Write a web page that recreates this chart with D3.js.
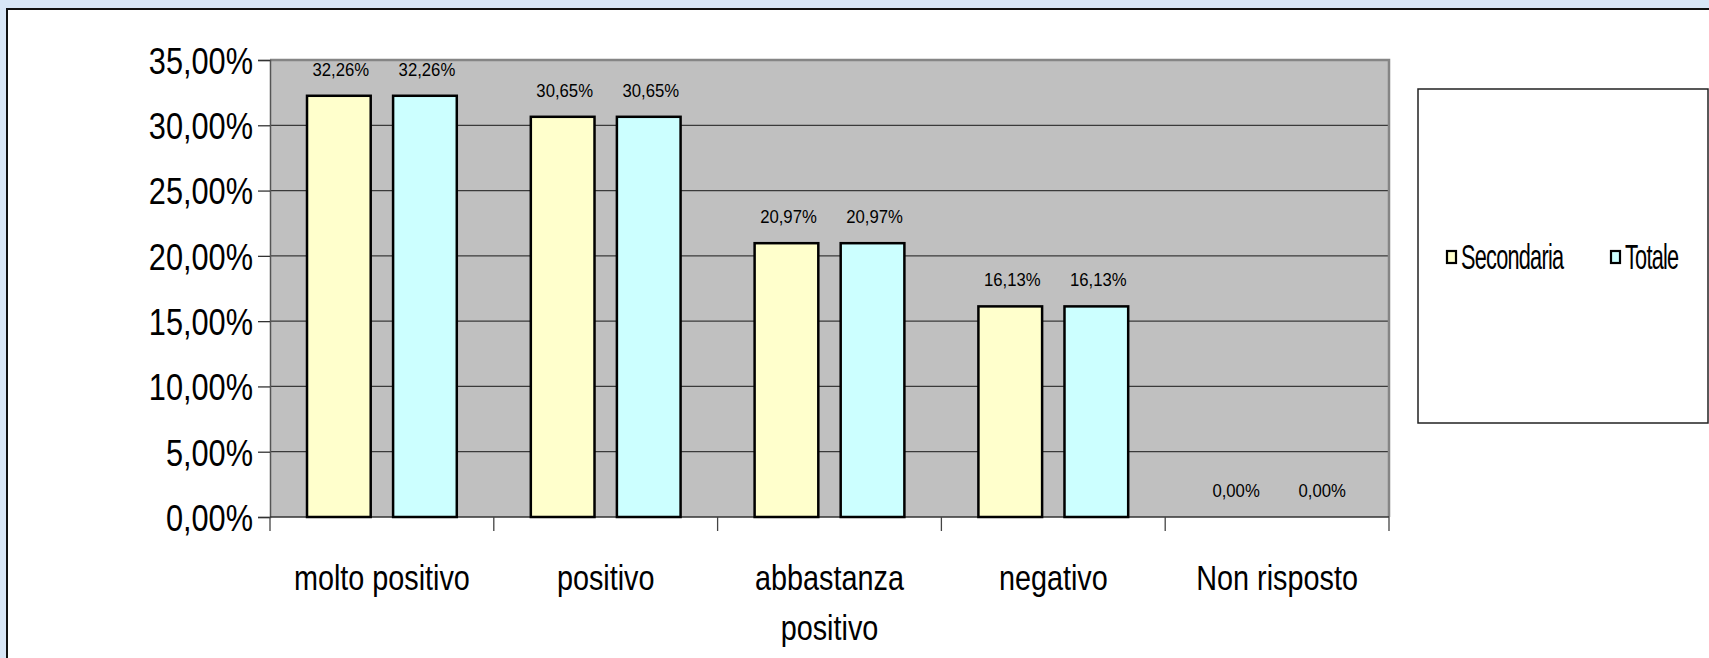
<!DOCTYPE html>
<html>
<head>
<meta charset="utf-8">
<script src="https://cdn.jsdelivr.net/npm/d3@7"></script>
<style>
  html, body { margin: 0; padding: 0; background: #d8e6f6; overflow: hidden; }
  svg { display: block; }
  text { font-family: "Liberation Sans", Arial, sans-serif; fill: #000; }
</style>
</head>
<body>
<div id="chart"></div>
<script>
// data
const categories = ['molto positivo', 'positivo', 'abbastanza positivo', 'negativo', 'Non risposto'];
const seriesNames = ['Secondaria', 'Totale'];
const secondaria = [0.3226, 0.3065, 0.2097, 0.1613, 0.0];
const totale = [0.3226, 0.3065, 0.2097, 0.1613, 0.0];
const yTicks = [0, 0.05, 0.10, 0.15, 0.20, 0.25, 0.30, 0.35];
const seriesColors = ['#ffffcc', '#ccffff'];

const width = 1709;
const height = 658;

const it = d3.formatLocale({decimal: ',', thousands: '.', grouping: [3], currency: ['€', '']});
const pct = it.format('.2%');

const plot = {left: 270, right: 1389, top: 60, bottom: 517};

// the original font is a condensed one, squeeze glyphs horizontally
function squeeze(sel, k, xPos, yPos) {
  sel.attr('x', null).attr('y', null)
    .attr('transform', `translate(${xPos},${yPos}) scale(${k},1)`);
}

const svg = d3.select('#chart')
  .append('svg')
  .attr('width', width)
  .attr('height', height);

// white panel with dark frame
svg.append('rect')
  .attr('x', 7).attr('y', 9)
  .attr('width', width + 10).attr('height', height + 10)
  .attr('fill', '#fff')
  .attr('stroke', '#111')
  .attr('stroke-width', 2);

const x = d3.scaleBand()
  .domain(categories)
  .range([plot.left, plot.right])
  .padding(0);

const xs = d3.scaleBand()
  .domain(seriesNames)
  .range([0, x.bandwidth()])
  .paddingInner(0.26)
  .paddingOuter(0.43);

const y = d3.scaleLinear()
  .domain([0, 0.35])
  .range([plot.bottom, plot.top]);

// plot background
svg.append('rect')
  .attr('x', plot.left).attr('y', plot.top)
  .attr('width', plot.right - plot.left)
  .attr('height', plot.bottom - plot.top)
  .attr('fill', '#c0c0c0');

// gridlines
svg.append('g')
  .selectAll('line')
  .data(yTicks.filter((d)=> d > 0 && d < 0.35))
  .enter()
  .append('line')
  .attr('x1', plot.left).attr('x2', plot.right)
  .attr('y1', (d)=> y(d)).attr('y2', (d)=> y(d))
  .attr('stroke', '#3a3a3a')
  .attr('stroke-width', 1.3);

// plot frame top / right in grey
svg.append('path')
  .attr('d', `M${plot.left},${plot.top}H${plot.right}V${plot.bottom}`)
  .attr('fill', 'none')
  .attr('stroke', '#858585')
  .attr('stroke-width', 2.5);

// y axis
const yAxis = svg.append('g')
  .attr('transform', `translate(${plot.left},0)`)
  .call(d3.axisLeft(y).tickValues(yTicks).tickFormat(pct).tickSize(12).tickPadding(6));
yAxis.select('.domain').attr('stroke', '#555').attr('stroke-width', 1.5);
yAxis.selectAll('.tick line').attr('stroke', '#333').attr('stroke-width', 1.3);
yAxis.selectAll('.tick text')
  .attr('font-size', 37)
  .attr('fill', '#000')
  .attr('font-family', null)
  .attr('dy', '0.36em')
  .call(squeeze, 0.83, -17, 0);

// x axis: ticks on category boundaries
const xAxis = svg.append('g').attr('transform', `translate(0,${plot.bottom})`);
xAxis.append('line')
  .attr('x1', plot.left).attr('x2', plot.right)
  .attr('stroke', '#333').attr('stroke-width', 1.5);
xAxis.selectAll('line.tk')
  .data(categories.map((c)=> x(c)).concat([plot.right]))
  .enter()
  .append('line')
  .attr('class', 'tk')
  .attr('x1', (d)=> d).attr('x2', (d)=> d)
  .attr('y1', 0).attr('y2', 14)
  .attr('stroke', '#444').attr('stroke-width', 1.3);

const catScale = 0.8;
const catLabels = xAxis.selectAll('text.cat')
  .data(categories)
  .enter()
  .append('text')
  .attr('class', 'cat')
  .attr('text-anchor', 'middle')
  .attr('font-size', 36)
  .attr('transform', (d)=> `translate(${x(d) + x.bandwidth() / 2},73) scale(${catScale},1)`);

// wrap category labels that don't fit the band
catLabels.each(function(d) {
  const t = d3.select(this);
  const words = d.split(' ');
  t.text(d);
  if (this.getComputedTextLength() * catScale > x.bandwidth() - 10 && words.length > 1) {
    t.text(null);
    words.forEach((w, i)=> {
      t.append('tspan').attr('x', 0).attr('dy', i === 0 ? 0 : 50).text(w);
    });
  }
});

// bars
const seriesData = [secondaria, totale];
const rows = categories.map((c, i)=> seriesNames.map((s, j)=> ({cat: c, series: s, value: seriesData[j][i], idx: j})));

const groups = svg.append('g')
  .selectAll('g')
  .data(rows)
  .enter()
  .append('g')
  .attr('transform', (d)=> `translate(${x(d[0].cat)},0)`);

groups.selectAll('rect')
  .data((d)=> d)
  .enter()
  .append('rect')
  .attr('x', (d)=> xs(d.series))
  .attr('y', (d)=> y(d.value))
  .attr('width', xs.bandwidth())
  .attr('height', (d)=> y(0) - y(d.value))
  .attr('fill', (d)=> seriesColors[d.idx])
  .attr('stroke', '#000')
  .attr('stroke-width', (d)=> d.value > 0 ? 2.5 : 0);

groups.selectAll('text')
  .data((d)=> d)
  .enter()
  .append('text')
  .attr('text-anchor', 'middle')
  .attr('font-size', 19)
  .attr('fill', '#222')
  .attr('transform', (d)=> `translate(${xs(d.series) + xs.bandwidth() / 2 + 2},${y(d.value) - 20}) scale(0.88,1)`)
  .text((d)=> pct(d.value));

// legend
const legend = svg.append('g');
legend.append('rect')
  .attr('x', 1418).attr('y', 89)
  .attr('width', 290).attr('height', 334)
  .attr('fill', '#fff')
  .attr('stroke', '#222')
  .attr('stroke-width', 1.5);

const legendX = [1447, 1611];
const items = legend.selectAll('g.item')
  .data(seriesNames)
  .enter()
  .append('g')
  .attr('class', 'item')
  .attr('transform', (d, i)=> `translate(${legendX[i]},258)`);

items.append('rect')
  .attr('x', 0).attr('y', -7)
  .attr('width', 9).attr('height', 12)
  .attr('fill', (d, i)=> seriesColors[i])
  .attr('stroke', '#000')
  .attr('stroke-width', 2.2);

items.append('text')
  .attr('transform', 'translate(14,11) scale(0.62,1)')
  .attr('font-size', 35)
  .attr('letter-spacing', -1.2)
  .text((d)=> d);
</script>
</body>
</html>
